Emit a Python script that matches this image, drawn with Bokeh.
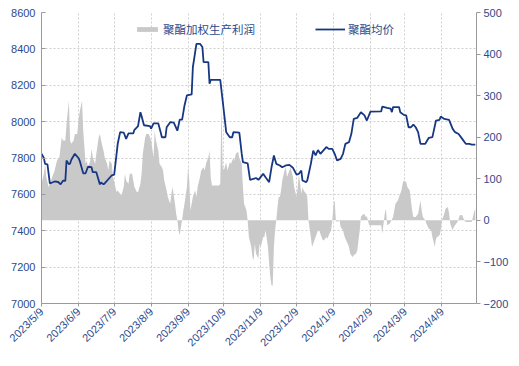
from datetime import datetime, timedelta
from math import pi
from bokeh.plotting import figure
from bokeh.models import Range1d, LinearAxis, FixedTicker, Legend, LegendItem, ColumnDataSource
from bokeh.embed import file_html
from bokeh.resources import INLINE

START = "2023-05-09"
END = "2024-05-08"
TICK_LABELS = ["2023/5/9", "2023/6/9", "2023/7/9", "2023/8/9", "2023/9/9", "2023/10/9",
               "2023/11/9", "2023/12/9", "2024/1/9", "2024/2/9", "2024/3/9", "2024/4/9"]
PRICE_TICKS = [7000, 7200, 7400, 7600, 7800, 8000, 8200, 8400, 8600]
PROFIT_TICKS = [-200, -100, 0, 100, 200, 300, 400, 500]

# day offsets from START and values
PRICE_DAY = [0, 2, 3, 5, 7, 11, 14, 16, 18, 20, 21, 23, 24, 25, 28, 31, 32, 35, 37, 39, 42, 43, 46, 49,
             50, 52, 53, 57, 59, 61, 63, 64, 66, 69, 71, 73, 77, 78, 81, 83, 84, 86, 91, 92, 94, 98,
             100, 101, 104, 105, 108, 111, 114, 116, 118, 120, 122, 126, 127, 130, 133, 135, 136, 140,
             141, 142, 150, 152, 155, 158, 160, 161, 166, 168, 169, 173, 175, 180, 182, 186, 188, 191,
             193, 195, 197, 200, 202, 205, 208, 211, 214, 216, 218, 219, 222, 223, 226, 228, 230, 232,
             234, 239, 241, 244, 246, 248, 251, 253, 255, 258, 260, 262, 265, 268, 271, 273, 276, 285,
             286, 290, 293, 294, 295, 300, 301, 304, 306, 308, 310, 312, 314, 316, 318, 322, 325, 328,
             331, 334, 335, 338, 342, 345, 347, 350, 353, 356, 359, 361, 364]
PRICE = [7823, 7800, 7768, 7765, 7660, 7671, 7668, 7655, 7675, 7675, 7786, 7765, 7770, 7790, 7823, 7800,
         7786, 7716, 7716, 7752, 7750, 7722, 7722, 7655, 7665, 7655, 7660, 7690, 7705, 7709, 7823, 7880,
         7942, 7940, 7905, 7935, 7935, 7955, 7975, 8052, 8030, 7980, 7975, 7962, 7990, 7990, 7942, 7914,
         7914, 7969, 7997, 7995, 7950, 8011, 8011, 8089, 8144, 8150, 8299, 8428, 8428, 8410, 8327, 8327,
         8208, 8230, 8230, 8116, 7942, 7914, 7914, 7942, 7940, 7824, 7777, 7770, 7680, 7690, 7680, 7713,
         7694, 7667, 7749, 7814, 7768, 7759, 7749, 7759, 7762, 7746, 7709, 7713, 7731, 7676, 7667, 7676,
         7768, 7841, 7814, 7844, 7823, 7860, 7850, 7850, 7823, 7786, 7795, 7823, 7878, 7887, 7933, 8015,
         8021, 8052, 8034, 8006, 8055, 8056, 8083, 8076, 8071, 8052, 8080, 8080, 8052, 8037, 8034, 7969,
         7969, 7984, 7969, 7942, 7878, 7878, 7911, 7915, 8006, 8010, 8028, 8015, 8010, 7960, 7942, 7932,
         7905, 7878, 7878, 7874, 7874]

PROFIT_DAY = [0, 2, 3, 4, 6, 7, 9, 11, 13, 15, 17, 18, 20, 21, 23, 24, 25, 27, 28, 30, 31, 32, 34, 35,
              37, 38, 39, 41, 42, 43, 45, 46, 48, 49, 50, 52, 53, 55, 56, 57, 59, 60, 62, 63, 64, 66,
              67, 69, 70, 71, 73, 74, 76, 77, 78, 80, 81, 83, 84, 85, 87, 88, 90, 91, 92, 94, 95, 96,
              98, 99, 101, 102, 103, 105, 106, 108, 109, 110, 112, 113, 114, 115, 116, 117, 118, 119,
              120, 122, 123, 124, 125, 126, 127, 129, 130, 131, 133, 134, 136, 137, 138, 140, 141, 142,
              143, 149, 150, 151, 152, 153, 155, 156, 158, 159, 161, 162, 163, 165, 166, 168, 169, 170,
              172, 173, 174, 176, 177, 178, 179, 180, 182, 183, 184, 186, 187, 188, 190, 191, 192, 193,
              194, 195, 196, 197, 198, 199, 200, 201, 202, 204, 205, 206, 208, 209, 211, 212, 214, 215,
              216, 218, 219, 220, 222, 223, 224, 226, 227, 228, 229, 230, 232, 233, 234, 236, 237, 239,
              240, 241, 243, 244, 245, 246, 247, 248, 250, 251, 253, 254, 255, 257, 258, 259, 261, 262,
              264, 265, 267, 268, 269, 271, 272, 273, 275, 285, 286, 288, 289, 290, 292, 293, 295, 296,
              297, 299, 300, 302, 303, 304, 306, 307, 309, 310, 311, 312, 314, 316, 317, 318, 319, 320,
              322, 323, 325, 327, 328, 330, 331, 332, 334, 335, 336, 338, 339, 341, 342, 343, 345, 346,
              347, 349, 350, 351, 353, 355, 357, 361, 363, 364]
PROFIT = [88, 112, 136, 104, 80, 88, 104, 120, 144, 152, 200, 192, 192, 232, 288, 192, 184, 192, 208, 208,
          240, 260, 288, 216, 136, 144, 128, 144, 172, 152, 136, 160, 200, 208, 192, 168, 152, 136, 120,
          144, 136, 104, 80, 68, 72, 64, 60, 80, 112, 96, 88, 112, 112, 96, 80, 68, 68, 88, 112, 160, 200,
          208, 208, 200, 192, 152, 216, 192, 168, 136, 128, 120, 96, 72, 56, 40, 64, 80, 40, 16, 0, -24,
          -36, -16, 0, 24, 40, 80, 128, 96, 24, 40, 56, 72, 56, 80, 104, 120, 128, 120, 136, 152, 168, 104,
          84, 84, 88, 280, 130, 120, 140, 120, 140, 136, 150, 144, 160, 165, 150, 136, 80, 40, 24, 0, -40,
          -64, -88, -96, -56, -80, -92, -56, -64, -40, -40, -24, -64, -104, -136, -157, -157, -64, -24, 0,
          32, 56, 56, 72, 96, 120, 128, 104, 120, 128, 104, 80, 56, 80, 112, 64, 80, 72, 64, 56, 0, -40,
          -64, -56, -48, -40, -24, -24, -32, -48, -48, -40, -44, -36, -24, 0, 36, 48, 0, -4, 0, -16, -24,
          -36, -44, -56, -64, -80, -88, -84, -80, -72, -24, 8, 12, 16, 8, 10, -12, -12, -32, 16, 28, -12,
          -8, -4, 8, 24, 40, 48, 56, 72, 88, 96, 92, 80, 72, 48, 24, 8, 8, 16, 32, 48, 24, 8, 0, -8, -20,
          -24, -40, -64, -44, -40, -36, -24, 0, 16, 28, 32, 16, -8, -24, -16, -12, -4, 4, 12, 13, -2, -4,
          -4, 20, 28]

start = datetime.strptime(START, "%Y-%m-%d")
end = datetime.strptime(END, "%Y-%m-%d")
price_src = ColumnDataSource(dict(x=[start + timedelta(days=d) for d in PRICE_DAY], y=PRICE))
profit_src = ColumnDataSource(dict(x=[start + timedelta(days=d) for d in PROFIT_DAY], y=PROFIT,
                                   z=[0] * len(PROFIT)))

NAVY = "#183783"
LABEL = "#2d4a8a"
AXIS = "#9a9a9a"

p = figure(width=511, height=358, x_axis_type="datetime", output_backend="svg",
           toolbar_location=None, x_range=Range1d(start, end), y_range=Range1d(7000, 8600),
           min_border_left=41, min_border_right=34, min_border_top=12, min_border_bottom=55)
p.outline_line_color = None
p.extra_y_ranges = {"profit": Range1d(-200, 500)}

area = p.varea(x="x", y1="z", y2="y", source=profit_src, y_range_name="profit",
               fill_color="#c9c9c9", fill_alpha=1.0)
line = p.line(x="x", y="y", source=price_src, line_color=NAVY, line_width=1.8)

epoch = datetime(1970, 1, 1)
tick_ms = [(datetime.strptime(t, "%Y/%m/%d") - epoch).total_seconds() * 1000 for t in TICK_LABELS]
xa = p.xaxis[0]
xa.ticker = FixedTicker(ticks=tick_ms)
xa.major_label_overrides = {ms: lab for ms, lab in zip(tick_ms, TICK_LABELS)}
xa.major_label_orientation = pi / 4
xa.minor_tick_line_color = None

ya = p.yaxis[0]
ya.ticker = FixedTicker(ticks=PRICE_TICKS)
ya.minor_tick_line_color = None
ya.major_tick_in = 4
ya.major_tick_out = 0

ra = LinearAxis(y_range_name="profit", ticker=FixedTicker(ticks=PROFIT_TICKS))
ra.major_label_overrides = {t: (("\u2212" + str(-t)) if t < 0 else str(t)) for t in PROFIT_TICKS}
ra.minor_tick_line_color = None
ra.major_tick_in = 0
ra.major_tick_out = 4
ra.major_label_standoff = 3
p.add_layout(ra, "right")

xa.major_tick_in = 0
xa.major_tick_out = 3
xa.major_label_standoff = 3
ya.major_label_standoff = 6

for ax in (xa, ya, ra):
    ax.axis_line_color = AXIS
    ax.major_tick_line_color = AXIS
    ax.major_label_text_color = LABEL
    ax.major_label_text_font = "Liberation Sans"
    ax.major_label_text_font_size = "11px"

p.xgrid.grid_line_color = "#cfcfcf"
p.xgrid.grid_line_dash = "2 2"
p.ygrid.grid_line_color = "#cfcfcf"
p.ygrid.grid_line_dash = "2 2"

def make_legend(item, loc, gw):
    lg = Legend(items=[item], location=loc, orientation="horizontal",
                padding=0, margin=0, spacing=0, label_standoff=3,
                glyph_width=gw, glyph_height=6, label_height=14,
                border_line_color=None, background_fill_alpha=0,
                label_text_font="Noto Sans CJK SC", label_text_font_size="11.5px",
                label_text_color=LABEL)
    return lg

p.add_layout(make_legend(LegendItem(label="聚酯加权生产利润", renderers=[area]), (93, 266), 26))
p.add_layout(make_legend(LegendItem(label="聚酯均价", renderers=[line]), (274, 266), 30))

open("out.html", "w").write(file_html(p, INLINE))
